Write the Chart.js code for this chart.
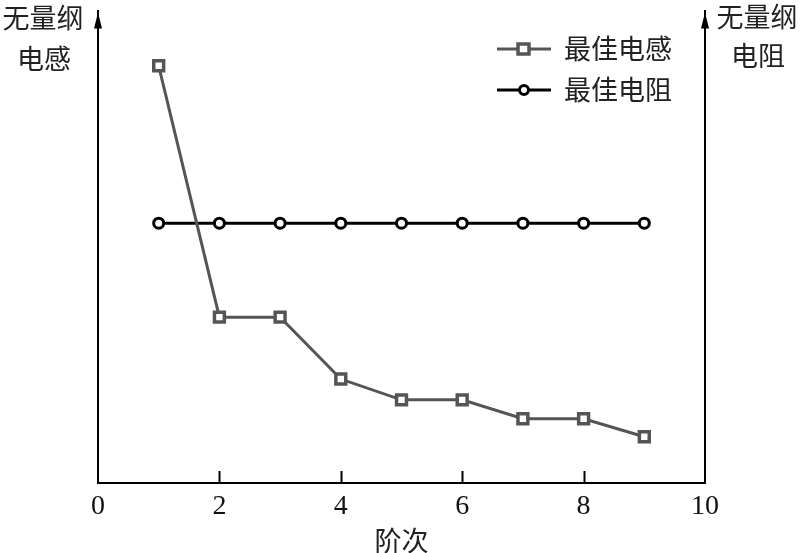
<!DOCTYPE html>
<html lang="zh">
<head>
<meta charset="UTF-8">
<title>最佳电感与电阻</title>
<style>
  html, body { margin: 0; padding: 0; background: #fff; }
  #wrap { width: 800px; height: 553px; }
</style>
</head>
<body>
<div id="wrap"><canvas id="chart"></canvas></div>
<script src="https://cdn.jsdelivr.net/npm/chart.js@4/dist/chart.umd.min.js"></script>
<script>
// 阶次
const orders = [1, 2, 3, 4, 5, 6, 7, 8, 9];
// 无量纲电感 / 电阻 (axis 0..1)
const inductance = [0.883, 0.351, 0.351, 0.220, 0.176, 0.176, 0.136, 0.136, 0.098];
const resistance = [0.550, 0.550, 0.550, 0.550, 0.550, 0.550, 0.550, 0.550, 0.550];
const xTicks = [0, 2, 4, 6, 8, 10];
const seriesNames = ['最佳电感', '最佳电阻'];

const cjk = '"Noto Sans CJK SC", sans-serif';
const serif = '"Liberation Serif", "DejaVu Serif", serif';

const toPts = (ys) => orders.map((x, i) => ({ x: x, y: ys[i] }));

// arrows, inward ticks, axis captions and the legend
const decor = {
    id: 'decor',
    afterDraw(chart) {
        const ctx = chart.ctx;
        const a = chart.chartArea;
        const xs = chart.scales.x;
        ctx.save();
        ctx.fillStyle = '#000';
        ctx.strokeStyle = '#000';
        // arrow heads
        [a.left, a.right].forEach((px) => {
            ctx.beginPath();
            ctx.moveTo(px, a.top + 2);
            ctx.lineTo(px - 4, a.top + 18);
            ctx.lineTo(px + 4, a.top + 18);
            ctx.closePath();
            ctx.fill();
        });
        // inward tick marks
        ctx.lineWidth = 2;
        xTicks.slice(1, -1).forEach((v) => {
            const px = Math.round(xs.getPixelForValue(v)) + 0.5;
            ctx.beginPath();
            ctx.moveTo(px, a.bottom);
            ctx.lineTo(px, a.bottom - 12);
            ctx.stroke();
        });
        // axis captions
        ctx.font = '27px ' + cjk;
        ctx.textAlign = 'center';
        ctx.textBaseline = 'middle';
        ctx.fillStyle = '#222';
        ctx.fillText('无量纲', 43, 18);
        ctx.fillText('电感', 44, 59);
        ctx.fillText('无量纲', 757, 17);
        ctx.fillText('电阻', 758, 56);
        // legend
        chart.data.datasets.forEach((ds, i) => {
            const y = 49 + i * 41;
            ctx.strokeStyle = ds.borderColor;
            ctx.lineWidth = ds.borderWidth;
            ctx.beginPath();
            ctx.moveTo(497, y);
            ctx.lineTo(551, y);
            ctx.stroke();
            ctx.lineWidth = ds.pointBorderWidth;
            ctx.fillStyle = '#fff';
            if (ds.pointStyle === 'rect') {
                ctx.fillRect(518, y - 5, 11, 10);
                ctx.strokeRect(518, y - 5, 11, 10);
            } else {
                ctx.beginPath();
                ctx.arc(524, y, 4.5, 0, Math.PI * 2);
                ctx.fill();
                ctx.stroke();
            }
            ctx.fillStyle = '#222';
            ctx.textAlign = 'left';
            ctx.fillText(ds.label, 564, y);
        });
        ctx.restore();
    }
};

new Chart(document.getElementById('chart'), {
    type: 'line',
    data: {
        datasets: [
            {
                label: seriesNames[0],
                data: toPts(inductance),
                yAxisID: 'y',
                borderColor: '#555555',
                borderWidth: 3,
                pointStyle: 'rect',
                pointRadius: 7,
                pointBorderWidth: 3.5,
                pointBackgroundColor: '#fff',
                pointBorderColor: '#555555',
                tension: 0
            },
            {
                label: seriesNames[1],
                data: toPts(resistance),
                yAxisID: 'y1',
                borderColor: '#000000',
                borderWidth: 3,
                pointStyle: 'circle',
                pointRadius: 5,
                pointBorderWidth: 3,
                pointBackgroundColor: '#fff',
                pointBorderColor: '#000000',
                tension: 0
            }
        ]
    },
    options: {
        responsive: true,
        maintainAspectRatio: false,
        animation: false,
        layout: { padding: { left: 98, right: 95, top: 5, bottom: 0 } },
        plugins: {
            legend: { display: false },
            tooltip: { enabled: false }
        },
        scales: {
            x: {
                type: 'linear',
                min: 0,
                max: 10,
                afterBuildTicks: (s) => { s.ticks = xTicks.map((v) => ({ value: v })); },
                afterFit: (s) => { s.height = 70; },
                grid: { display: false, drawTicks: false },
                border: { display: true, color: '#000', width: 2 },
                ticks: {
                    padding: 7,
                    color: '#111',
                    font: { family: serif, size: 28 },
                    maxRotation: 0
                },
                title: {
                    display: true,
                    text: '阶次',
                    color: '#222',
                    font: { family: cjk, size: 27 },
                    padding: { top: 0, bottom: -4 }
                }
            },
            y: {
                position: 'left',
                min: 0,
                max: 1,
                afterFit: (s) => { s.width = 0; },
                grid: { display: false, drawTicks: false },
                border: { display: true, color: '#000', width: 2 },
                ticks: { display: false }
            },
            y1: {
                position: 'right',
                min: 0,
                max: 1,
                afterFit: (s) => { s.width = 0; },
                grid: { display: false, drawTicks: false },
                border: { display: true, color: '#000', width: 2 },
                ticks: { display: false }
            }
        }
    },
    plugins: [decor]
});
</script>
</body>
</html>
